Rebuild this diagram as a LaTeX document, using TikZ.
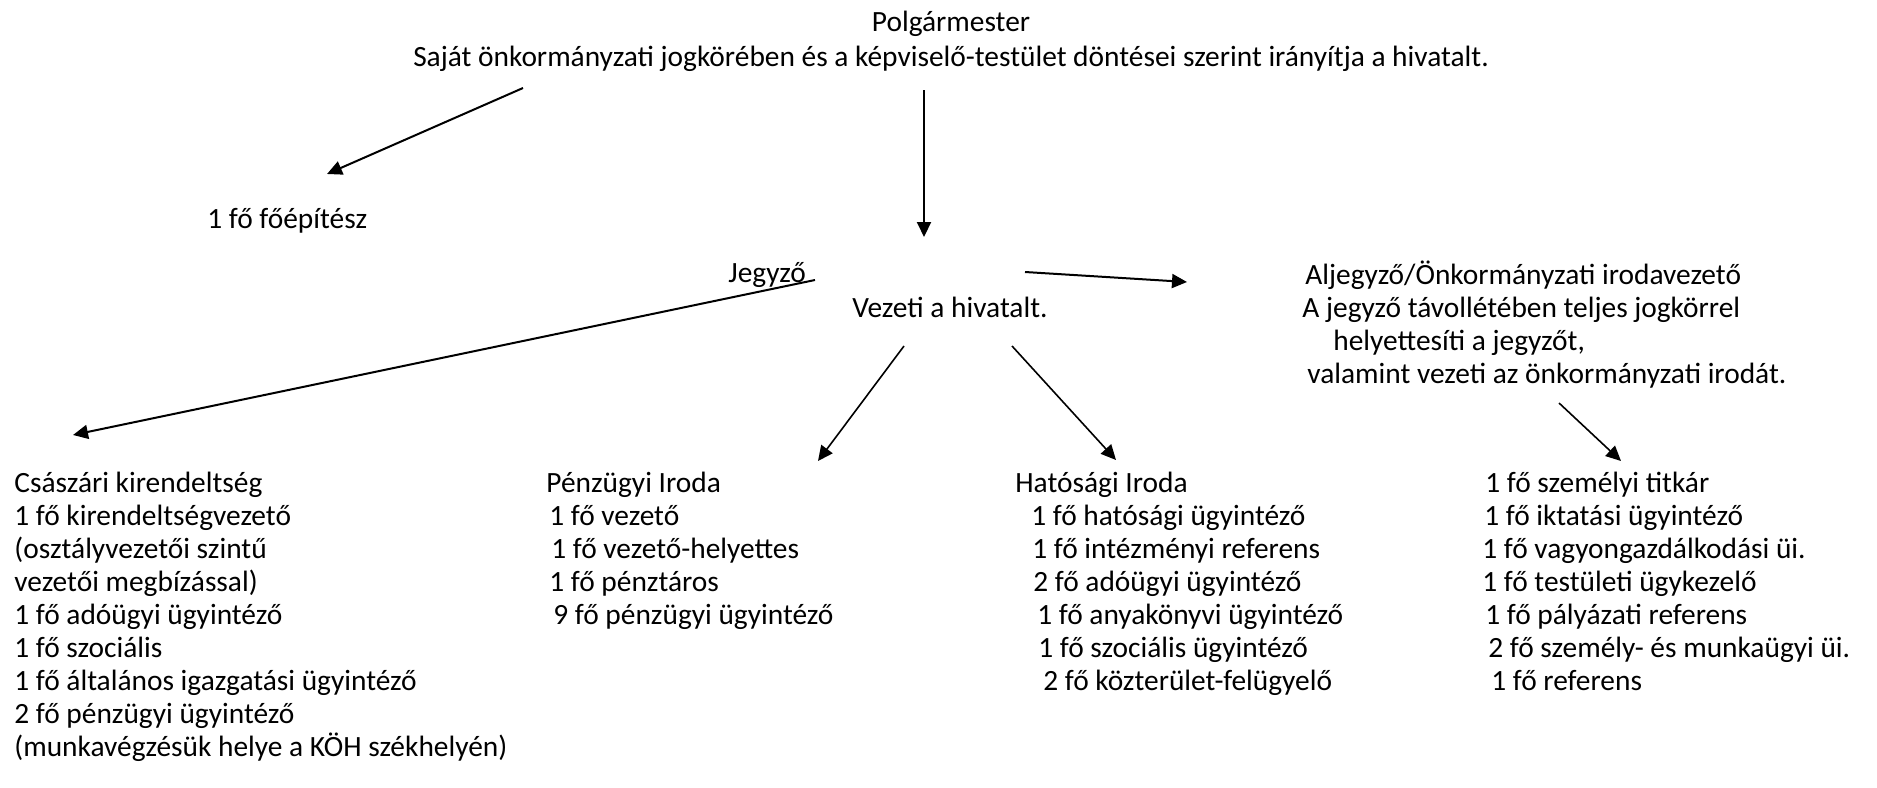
\documentclass[tikz,border=0pt]{standalone}
\usepackage{fontspec}
\setmainfont{Carlito}
\usetikzlibrary{arrows.meta}

\begin{document}
\begin{tikzpicture}
[x=0.5pt,y=-0.5pt,%
  every node/.style={inner sep=0pt,anchor=base west,align=left,font=\fontsize{14.7}{16.5}\selectfont},%
  arr/.style={-{Triangle[length=7.5pt,width=7pt]},line width=1pt},%
  thinarr/.style={-{Triangle[length=7.5pt,width=7pt]},line width=0.8pt}]
\useasboundingbox (0,0) rectangle (1877,787);
% top (multi-line nodes sit on their last baseline)
\node[anchor=base] (polg) at (951,32) {Polgármester};
\node[anchor=base] (sajat) at (951,66) {Saját önkormányzati jogkörében és a képviselő-testület döntései szerint irányítja a hivatalt.};
\node (foep) at (207,228) {1 fő főépítész};
\node (jegyzo) at (728,282) {Jegyző};
\node (vezeti) at (852,317) {Vezeti a hivatalt.};
\node (aljegyzo) at (1302,383) {\hspace*{1.5pt}Aljegyző/Önkormányzati irodavezető\\
  A jegyző távollétében teljes jogkörrel\\
  \hspace*{15.5pt}helyettesíti a jegyzőt,\\
  \hspace*{2.5pt}valamint vezeti az önkormányzati irodát.};
% bottom row
\node (csaszar) at (14,756) {Császári kirendeltség\\
  1 fő kirendeltségvezető\\
  (osztályvezetői szintű\\
  vezetői megbízással)\\
  1 fő adóügyi ügyintéző\\
  1 fő szociális\\
  1 fő általános igazgatási ügyintéző\\
  2 fő pénzügyi ügyintéző\\
  (munkavégzésük helye a KÖH székhelyén)};
\node (penzugy) at (546,624) {Pénzügyi Iroda\\
  \hspace*{1.5pt}1 fő vezető\\
  \hspace*{2.5pt}1 fő vezető-helyettes\\
  \hspace*{1.5pt}1 fő pénztáros\\
  \hspace*{3.5pt}9 fő pénzügyi ügyintéző};
\node (hatosag) at (1015,690) {Hatósági Iroda\\
  \hspace*{8pt}1 fő hatósági ügyintéző\\
  \hspace*{8.5pt}1 fő intézményi referens\\
  \hspace*{9pt}2 fő adóügyi ügyintéző\\
  \hspace*{11pt}1 fő anyakönyvi ügyintéző\\
  \hspace*{11.5pt}1 fő szociális ügyintéző\\
  \hspace*{14pt}2 fő közterület-felügyelő};
\node (onkir) at (1482,690) {\hspace*{1.5pt}1 fő személyi titkár\\
  \hspace*{1pt}1 fő iktatási ügyintéző\\
  1 fő vagyongazdálkodási üi.\\
  1 fő testületi ügykezelő\\
  \hspace*{1.5pt}1 fő pályázati referens\\
  \hspace*{3pt}2 fő személy- és munkaügyi üi.\\
  \hspace*{4.5pt}1 fő referens};
% arrow ends
\coordinate (polg-a) at (523,88);
\coordinate (foep-a) at (327,174);
\coordinate (polg-b) at (924,90);
\coordinate (jegyzo-b) at (924,237);
\coordinate (jegyzo-c) at (1025,272);
\coordinate (aljegyzo-c) at (1187,282);
\coordinate (jegyzo-d) at (815,280);
\coordinate (csaszar-d) at (73,435);
\coordinate (vezeti-e) at (904,346);
\coordinate (penzugy-e) at (818,461);
\coordinate (vezeti-f) at (1012,346);
\coordinate (hatosag-f) at (1116,460);
\coordinate (aljegyzo-g) at (1559,403);
\coordinate (onkir-g) at (1621,461);
\draw[arr] (polg-a) -- (foep-a);
\draw[arr] (polg-b) -- (jegyzo-b);
\draw[arr] (jegyzo-c) -- (aljegyzo-c);
\draw[arr] (jegyzo-d) -- (csaszar-d);
\draw[thinarr] (vezeti-e) -- (penzugy-e);
\draw[thinarr] (vezeti-f) -- (hatosag-f);
\draw[thinarr] (aljegyzo-g) -- (onkir-g);
\end{tikzpicture}
\end{document}
